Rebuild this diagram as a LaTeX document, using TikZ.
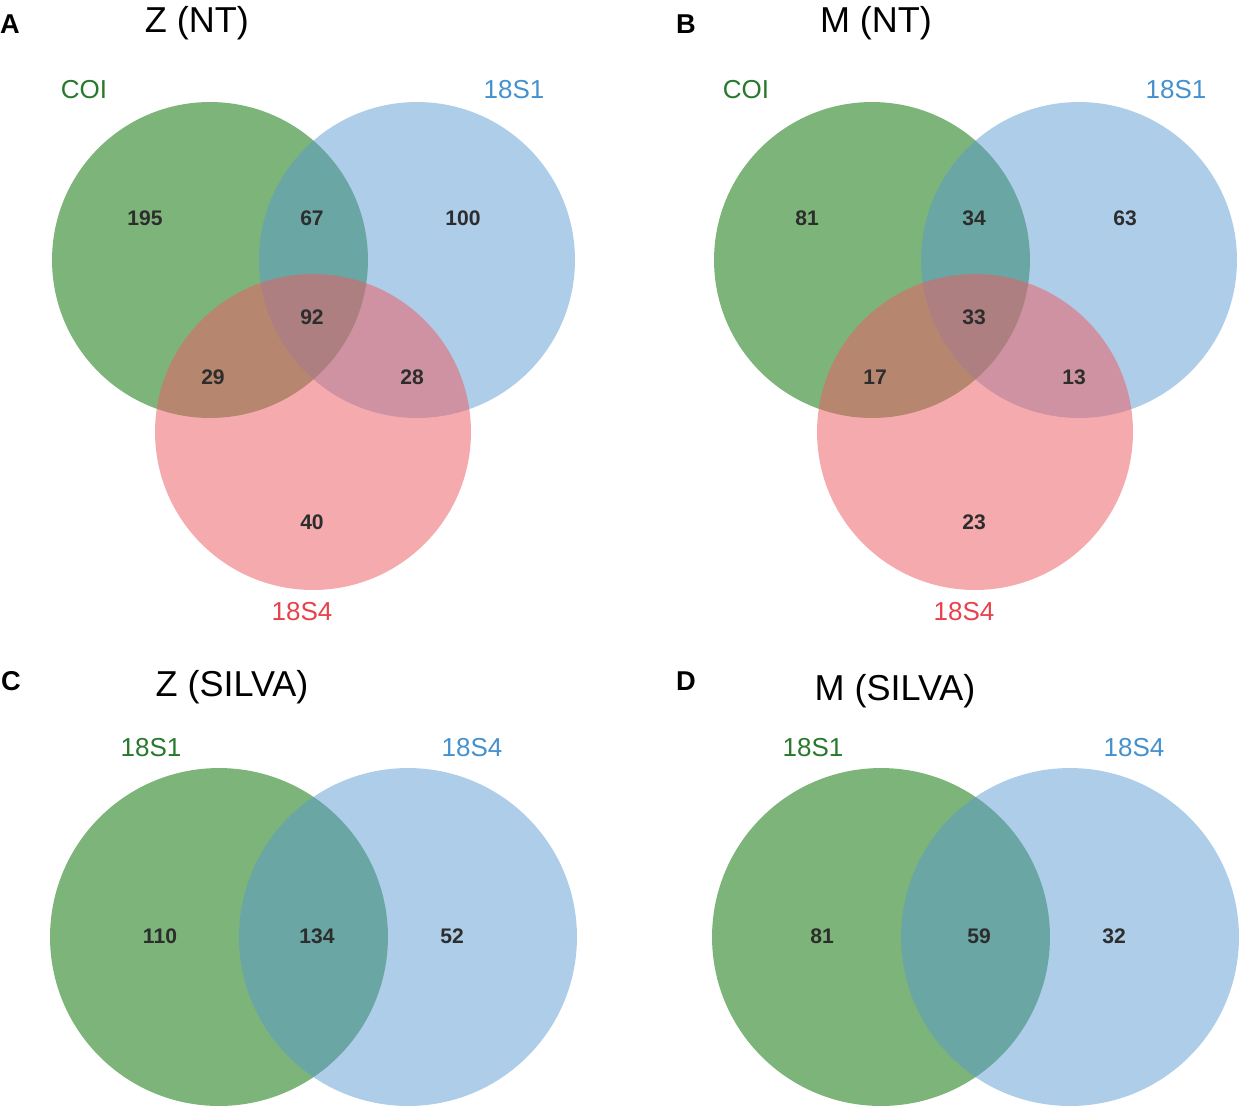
\documentclass[tikz,border=0pt]{standalone}
\usepackage{fontspec}
\setmainfont{Liberation Sans}
\usepackage{tikz}

\definecolor{vgreen}{RGB}{125,180,122}
\definecolor{vblue}{RGB}{86,151,209}
\definecolor{vred}{RGB}{236,93,99}
\definecolor{tgreen}{RGB}{40,120,45}
\definecolor{tblue}{RGB}{70,145,205}
\definecolor{tred}{RGB}{232,65,75}
\definecolor{tnum}{RGB}{45,45,45}

\begin{document}
\begin{tikzpicture}[x=0.02cm, y=-0.02cm,
    setg/.style={circle,inner sep=0pt,fill=vgreen},
    setb/.style={circle,inner sep=0pt,fill=vblue,fill opacity=0.48},
    setr/.style={circle,inner sep=0pt,fill=vred,fill opacity=0.52},
    panel/.style={anchor=base,font=\fontsize{15.5}{18}\selectfont\bfseries},
    title/.style={anchor=base,font=\fontsize{20.5}{24}\selectfont},
    setname/.style={anchor=base,font=\fontsize{14.8}{16}\selectfont},
    count/.style={anchor=base,text=tnum,font=\fontsize{12}{14}\selectfont\bfseries}
  ]
  \useasboundingbox (0,0) rectangle (1241,1110);

  % Three-set panels (NT)
  \foreach \p/\dx/\lx/\ttl/\tx/\na/\nab/\nb/\nabc/\nac/\nbc/\nc in
      {A/0/10/Z (NT)/197/195/67/100/92/29/28/40,
       B/662/24/M (NT)/214/81/34/63/33/17/13/23}{
    \begin{scope}[shift={(\dx,0)}]
      \node[setg,minimum size=6.32cm] (\p-coi) at (210,260) {};
      \node[setb,minimum size=6.32cm] (\p-s1) at (417,260) {};
      \node[setr,minimum size=6.32cm] (\p-s4) at (313,432) {};

      \node[panel] (\p-tag) at (\lx,33) {\p};
      \node[title] (\p-title) at (\tx,32) {\ttl};
      \node[setname,text=tgreen] (\p-coi-name) at (84,98) {COI};
      \node[setname,text=tblue] (\p-s1-name) at (514,98) {18S1};
      \node[setname,text=tred] (\p-s4-name) at (302,620) {18S4};

      \node[count] (\p-n1) at (145,225) {\na};
      \node[count] (\p-n2) at (312,225) {\nab};
      \node[count] (\p-n3) at (463,225) {\nb};
      \node[count] (\p-n4) at (312,324) {\nabc};
      \node[count] (\p-n5) at (213,384) {\nac};
      \node[count] (\p-n6) at (412,384) {\nbc};
      \node[count] (\p-n7) at (312,529) {\nc};
    \end{scope}
  }

  % Two-set panels (SILVA)
  \foreach \p/\dx/\lx/\ttl/\tx/\ty/\na/\nab/\nb in
      {C/0/11/Z (SILVA)/232/696/110/134/52,
       D/662/24/M (SILVA)/233/700/81/59/32}{
    \begin{scope}[shift={(\dx,0)}]
      \node[setg,minimum size=6.76cm] (\p-s1) at (219,937) {};
      \node[setb,minimum size=6.76cm] (\p-s4) at (408,937) {};

      \node[panel] (\p-tag) at (\lx,690) {\p};
      \node[title] (\p-title) at (\tx,\ty) {\ttl};
      \node[setname,text=tgreen] (\p-s1-name) at (151,756) {18S1};
      \node[setname,text=tblue] (\p-s4-name) at (472,756) {18S4};

      \node[count] (\p-n1) at (160,943) {\na};
      \node[count] (\p-n2) at (317,943) {\nab};
      \node[count] (\p-n3) at (452,943) {\nb};
    \end{scope}
  }
\end{tikzpicture}
\end{document}
